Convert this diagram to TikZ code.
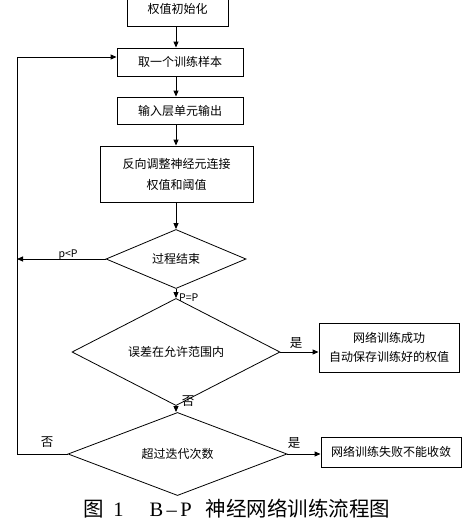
\documentclass[tikz,border=0pt]{standalone}
\usepackage{fontspec}
\setmainfont{Noto Sans CJK SC}
\newfontfamily\capserif{Liberation Serif}
\usetikzlibrary{shapes.geometric,arrows.meta}
\begin{document}
\begin{tikzpicture}[x=1pt,y=-1pt,
  box/.style={draw,line width=0.9pt,rectangle,inner sep=0pt,align=center,font=\fontsize{12}{20}\selectfont},
  dia/.style={draw,line width=0.8pt,diamond,inner sep=0pt,font=\fontsize{12}{14}\selectfont},
  flow/.style={line width=0.9pt,-{Triangle[length=6pt,width=5pt]}},
  lab/.style={inner sep=0pt,font=\fontsize{12.5}{14}\selectfont},
  small/.style={inner sep=0pt,font=\fontsize{10.5}{12}\selectfont}]
\useasboundingbox (0,0) rectangle (475,528);
\clip (0,0) rectangle (475,528);
\fill[white] (0,0) rectangle (475,528);
\coordinate (axis) at (176,0);
\coordinate (L) at (17,57);
\node[box,minimum width=101pt,minimum height=34pt] (b1) at (177.5,9) {权值初始化};
\node[box,minimum width=126pt,minimum height=28pt] (b2) at (180,62) {取一个训练样本};
\node[box,minimum width=126pt,minimum height=27pt] (b3) at (180,110.5) {输入层单元输出};
\node[box,minimum width=153pt,minimum height=56pt,font=\fontsize{12}{21}\selectfont] (b4) at (176.5,174) {反向调整神经元连接\\权值和阈值};
\node[dia,minimum width=140pt,minimum height=48pt] (d1) at (176,259) {过程结束};
\node[dia,minimum width=208pt,minimum height=77pt] (d2) at (176,352) {误差在允许范围内};
\node[dia,minimum width=219pt,minimum height=74pt] (d3) at (177.5,454) {超过迭代次数};
\node[box,minimum width=140pt,minimum height=49pt,font=\fontsize{12}{19.5}\selectfont] (b5) at (389,347.5) {网络训练成功\\自动保存训练好的权值};
\node[box,minimum width=140pt,minimum height=30pt] (b6) at (391,452) {网络训练失败不能收敛};
\draw[flow] (b1.south -| axis) -- (b2.north -| axis);
\draw[flow] (b2.south -| axis) -- (b3.north -| axis);
\draw[flow] (b3.south -| axis) -- (b4.north -| axis);
\draw[flow] (b4.south -| axis) -- (d1.north -| axis);
\draw[flow] (d1.south -| axis) -- (d2.north -| axis);
\draw[flow] (d2.south -| axis) -- (d3.north -| axis);
\draw[flow] (d1.west) -- (d1.west -| L);
\draw[flow] (d3.west) -- (d3.west -| L) -- (L) -- (b2.west |- L);
\draw[flow] (d2.east) -- (d2.east -| b5.west);
\draw[flow] (d3.east) -- (d3.east -| b6.west);
\node[small,anchor=base] (t1) at (68,257) {p<P};
\node[small,anchor=base west] (t2) at (179,301) {P=P};
\node[lab] (t3) at (296,343) {是};
\node[lab] (t4) at (188,401) {否};
\node[lab] (t5) at (47,442) {否};
\node[lab] (t6) at (294,443) {是};
\node[inner sep=0pt,font=\fontsize{20.5}{22}\selectfont] (cap) at (237,509) {图\hspace{9pt}{\capserif 1}\hspace{26pt}{\capserif B\,–\,P}\hspace{14pt}神经网络训练流程图};
\end{tikzpicture}
\end{document}
